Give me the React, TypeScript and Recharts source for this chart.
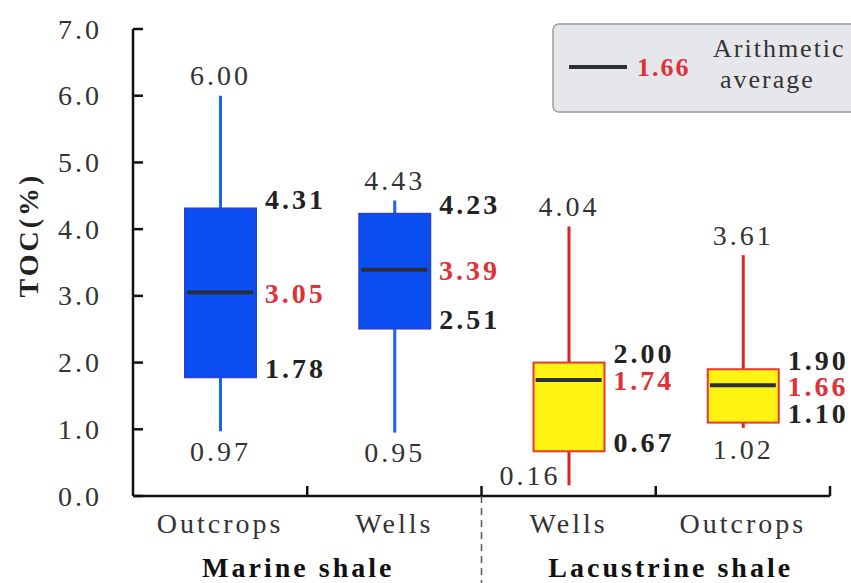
import { Bar, ComposedChart, Customized, Scatter, XAxis, YAxis } from "recharts"

// box statistics of TOC (%) per sample group
const categories = ["Outcrops", "Wells", "Wells", "Outcrops"]
const shaleKind = ["marine", "marine", "lacustrine", "lacustrine"]
const groupNames = ["Marine shale", "Lacustrine shale"]
const minVals = [0.97, 0.95, 0.16, 1.02]
const q1Vals = [1.78, 2.51, 0.67, 1.1]
const meanVals = [3.05, 3.39, 1.74, 1.66]
const q3Vals = [4.31, 4.23, 2.0, 1.9]
const maxVals = [6.0, 4.43, 4.04, 3.61]
const yTicks = [0, 1, 2, 3, 4, 5, 6, 7]
const legendValue = "1.66"

const data = categories.map((c, i) => ({
  id: String(i),
  name: c,
  kind: shaleKind[i],
  min: minVals[i],
  q1: q1Vals[i],
  mean: meanVals[i],
  q3: q3Vals[i],
  max: maxVals[i],
}))

const FONT = "'Liberation Serif', 'Times New Roman', Times, serif"
const colors = {
  marine: { fill: "#0b4ff2", stroke: "#2443d6", whisker: "#1766f2" },
  lacustrine: { fill: "#fff314", stroke: "#e8392b", whisker: "#df2320" },
}
const grey = "#333"
const red = "#e0313a"

// manual nudges for the min label (the 0.16 label sits left of its whisker)
const minLabelDx = [0, 0, -39, 0]
const minLabelDy = [20, 20, -10, 22]
const groupDx = [-9, 15]

const numText = { fontFamily: FONT, fontSize: 28, letterSpacing: 3 }
const boldText = { fontFamily: FONT, fontSize: 28, letterSpacing: 3 }

function WhiskerShape(props: any) {
  const { x, y, width, height, index, payload } = props
  const cx = x + width / 2
  const c = colors[payload.kind as "marine" | "lacustrine"]
  return (
    <g>
      <line x1={cx} x2={cx} y1={y} y2={y + height} stroke={c.whisker} strokeWidth={3} />
      <text x={cx} y={y - 20} textAnchor="middle" dominantBaseline="central" fill={grey} style={numText}>
        {payload.max.toFixed(2)}
      </text>
      <text
        x={cx + minLabelDx[index]}
        y={y + height + minLabelDy[index]}
        textAnchor="middle"
        dominantBaseline="central"
        fill={grey}
        style={numText}
      >
        {payload.min.toFixed(2)}
      </text>
    </g>
  )
}

function BoxShape(props: any) {
  const { x, y, width, height, payload } = props
  const c = colors[payload.kind as "marine" | "lacustrine"]
  return (
    <g>
      <rect x={x} y={y} width={width} height={height} fill={c.fill} stroke={c.stroke} strokeWidth={2} />
      <text x={x + width + 9} y={y - 9} dominantBaseline="central" fill="#222" fontWeight="bold" style={boldText}>
        {payload.q3.toFixed(2)}
      </text>
      <text x={x + width + 9} y={y + height - 9} dominantBaseline="central" fill="#222" fontWeight="bold" style={boldText}>
        {payload.q1.toFixed(2)}
      </text>
    </g>
  )
}

function MeanShape(props: any) {
  const { cx, cy, payload } = props
  return (
    <g>
      <line x1={cx - 33} x2={cx + 33} y1={cy} y2={cy} stroke="#2b2f38" strokeWidth={4} />
      <text x={cx + 44.5} y={cy + 1} dominantBaseline="central" fill={red} fontWeight="bold" style={boldText}>
        {payload.mean.toFixed(2)}
      </text>
    </g>
  )
}

function YTick(props: any) {
  const { x, y, payload } = props
  return (
    <g>
      <line x1={x} x2={x + 10} y1={y} y2={y} stroke="#111" strokeWidth={2.5} />
      <text x={x - 31} y={y} textAnchor="end" dominantBaseline="central" fill={grey} style={numText}>
        {Number(payload.value).toFixed(1)}
      </text>
    </g>
  )
}

function XTick(props: any) {
  const { x, y, payload, index } = props
  const half = payload.offset ?? 87
  const edge = x + half
  const groupIdx = shaleKind[index] === "marine" ? 0 : 1
  const firstOfGroup = index === shaleKind.indexOf(shaleKind[index])
  return (
    <g>
      <line x1={edge} x2={edge} y1={y} y2={y - 10} stroke="#111" strokeWidth={2.5} />
      {index === 1 && (
        <line x1={edge} x2={edge} y1={y} y2={583} stroke="#555" strokeWidth={1.5} strokeDasharray="7 5" />
      )}
      <text x={x} y={y + 27} textAnchor="middle" dominantBaseline="central" fill={grey} style={numText}>
        {categories[index]}
      </text>
      {firstOfGroup && (
        <text
          x={edge + groupDx[groupIdx]}
          y={y + 71}
          textAnchor="middle"
          dominantBaseline="central"
          fill="#111"
          fontWeight="bold"
          style={boldText}
        >
          {groupNames[groupIdx]}
        </text>
      )}
    </g>
  )
}

function LegendBox() {
  const t = { fontFamily: FONT, fontSize: 26, letterSpacing: 2 }
  return (
    <g>
      <rect x={553} y={24} width={330} height={88} rx={6} fill="#e6e7ea" stroke="#9c9c9c" strokeWidth={1.5} />
      <line x1={569} x2={627} y1={67} y2={67} stroke="#2b2f38" strokeWidth={4} />
      <text x={637} y={67} dominantBaseline="central" fill={red} fontWeight="bold" style={t}>
        {legendValue}
      </text>
      <text x={713} y={57} fill={grey} style={t}>
        Arithmetic
      </text>
      <text x={720} y={88} fill={grey} style={t}>
        average
      </text>
    </g>
  )
}

function YLabel() {
  return (
    <text
      x={28}
      y={235}
      transform="rotate(-90 28 235)"
      textAnchor="middle"
      dominantBaseline="central"
      fill="#222"
      fontWeight="bold"
      style={boldText}
    >
      TOC(%)
    </text>
  )
}

export default function App() {
  return (
    <div style={{ position: "absolute", left: 0, top: 0, width: 851, height: 583, background: "#fff" }}>
      <ComposedChart width={851} height={583} data={data} margin={{ top: 29, right: 21, bottom: 0, left: 0 }}>
        <XAxis
          xAxisId="main"
          dataKey="id"
          type="category"
          height={87}
          axisLine={{ stroke: "#111", strokeWidth: 2.5 }}
          tickLine={false}
          tickSize={0}
          tickMargin={0}
          interval={0}
          tick={<XTick />}
        />
        <XAxis xAxisId="w" dataKey="id" type="category" hide />
        <YAxis
          domain={[0, 7]}
          ticks={yTicks}
          width={133}
          axisLine={{ stroke: "#111", strokeWidth: 2.5 }}
          tickLine={false}
          tickSize={0}
          tickMargin={0}
          interval={0}
          tick={<YTick />}
        />
        <Bar
          xAxisId="w"
          dataKey={(d: any) => [d.min, d.max]}
          barSize={3}
          shape={<WhiskerShape />}
          isAnimationActive={false}
        />
        <Bar
          xAxisId="main"
          dataKey={(d: any) => [d.q1, d.q3]}
          barSize={71}
          shape={<BoxShape />}
          isAnimationActive={false}
        />
        <Scatter xAxisId="main" dataKey="mean" shape={<MeanShape />} isAnimationActive={false} />
        <Customized component={<LegendBox />} />
        <Customized component={<YLabel />} />
      </ComposedChart>
    </div>
  )
}
